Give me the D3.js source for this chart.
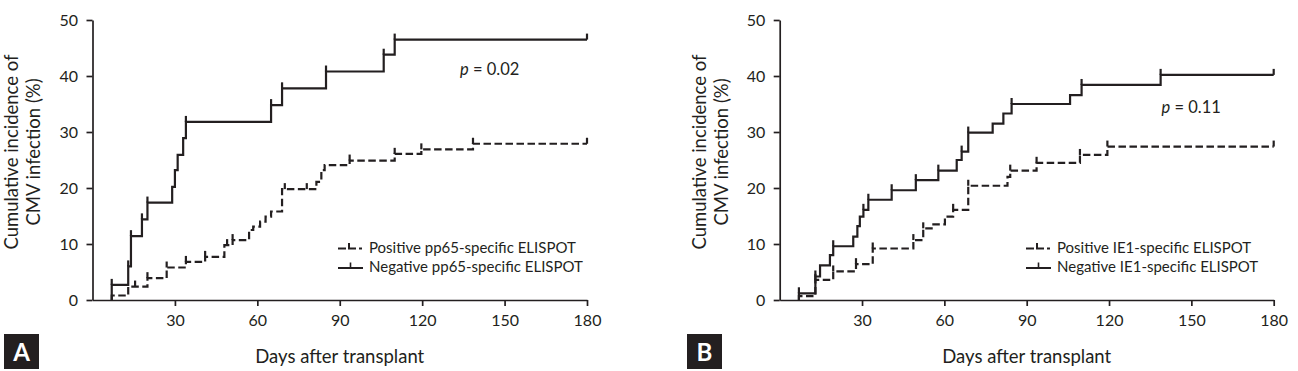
<!DOCTYPE html>
<html>
<head>
<meta charset="utf-8">
<script src="https://cdn.jsdelivr.net/npm/d3@7/dist/d3.min.js"></script>
<style>
  html, body { margin: 0; padding: 0; background: #fff; }
  svg { display: block; font-family: Lato, "Open Sans", sans-serif; }
</style>
</head>
<body>
<svg id="chart" width="1298" height="371"></svg>
<script>
// ---------------- data ----------------
const xTicks = [30, 60, 90, 120, 150, 180];
const yTicks = [0, 10, 20, 30, 40, 50];
const xTitle = "Days after transplant";
const yTitle1 = "Cumulative incidence of";
const yTitle2 = "CMV infection (%)";
const endDay = 180;

// Panel A – pp65
const aNegDays = [7, 13, 14, 18, 20, 29, 30, 31, 33, 34, 65, 69, 85, 106, 110];
const aNegVals = [2.7, 6.0, 11.4, 14.4, 17.4, 20.2, 23.2, 25.9, 28.9, 31.8, 34.8, 37.8, 40.8, 43.8, 46.5];
const aNegCensor = [7, 13, 14, 18, 20, 34, 65, 69, 85, 106, 110, 180];
const aPosDays = [7, 13, 20, 27, 34, 41, 48, 51, 57, 58.5, 61, 63, 65, 69, 81.5, 83.3, 84.5, 93.6, 110, 119.7, 138.5];
const aPosVals = [0.8, 2.4, 3.9, 5.8, 6.8, 7.7, 9.8, 10.7, 12.5, 13.1, 14.0, 14.9, 15.8, 19.8, 21.1, 23.2, 24.1, 24.9, 26.1, 26.9, 27.9];
const aPosCensor = [15.5, 20, 27, 34, 41, 49, 51, 70, 78, 93.6, 110, 119.7, 138.5, 180];
const aLegend = ["Positive pp65-specific ELISPOT", "Negative pp65-specific ELISPOT"];
const aP = "0.02";

// Panel B – IE1
const bNegDays = [7, 13, 14.7, 18.3, 19.5, 26.8, 28.3, 29.2, 30.5, 32.3, 40.8, 49.6, 57.8, 64.5, 66.3, 68.7, 77.6, 81.5, 84.5, 105.8, 110, 138.8];
const bNegVals = [1.2, 4.2, 6.2, 8.0, 9.6, 11.3, 13.2, 14.9, 16.1, 17.9, 19.6, 21.4, 23.1, 25.0, 26.5, 29.9, 31.5, 33.3, 35.0, 36.6, 38.4, 40.2];
const bNegCensor = [7, 13, 19.5, 30.5, 32.3, 40.8, 49.6, 57.8, 66.3, 68.7, 84.5, 110, 138.8, 180];
const bPosDays = [7, 13, 19.5, 27.8, 33.9, 48.7, 52.3, 56, 60.2, 63.2, 68.7, 83, 84, 93.6, 109.4, 119.4];
const bPosVals = [0.7, 3.6, 5.1, 6.4, 9.2, 10.7, 12.8, 13.5, 14.9, 16.1, 20.4, 22.0, 23.1, 24.5, 25.9, 27.4];
const bPosCensor = [13, 19.5, 27.8, 33.9, 48.7, 52.3, 63.2, 68.7, 84, 93.6, 109.4, 119.4, 180];
const bLegend = ["Positive IE1-specific ELISPOT", "Negative IE1-specific ELISPOT"];
const bP = "0.11";

// ---------------- drawing ----------------
const INK = "#231f20";
const svg = d3.select("#chart");

const panels = [
  { label: "A", x0: 92.5, x1: 587, box: 4, ylab: 18,
    neg: [aNegDays, aNegVals, aNegCensor], pos: [aPosDays, aPosVals, aPosCensor],
    legend: aLegend, legX: 338, p: aP, pX: 460, pY: 75 },
  { label: "B", x0: 779.7, x1: 1273.7, box: 687, ylab: 705.5,
    neg: [bNegDays, bNegVals, bNegCensor], pos: [bPosDays, bPosVals, bPosCensor],
    legend: bLegend, legX: 1026, p: bP, pX: 1161.5, pY: 113 }
];

function stepPoints(days, vals) {
  const pts = [[days[0], 0]];
  days.forEach((d, i) => pts.push([d, vals[i]]));
  pts.push([endDay, vals[vals.length - 1]]);
  return pts;
}
function valueAt(days, vals, t) {
  let v = 0;
  days.forEach((d, i) => { if (d <= t) v = vals[i]; });
  return v;
}

panels.forEach(P => {
  const x = d3.scaleLinear().domain([0, 180]).range([P.x0, P.x1]);
  const y = d3.scaleLinear().domain([0, 50]).range([300, 20]);
  const g = svg.append("g");

  // axes
  const xa = g.append("g").attr("transform", "translate(0,300)")
    .call(d3.axisBottom(x).tickValues(xTicks).tickSize(6).tickSizeOuter(0).tickPadding(9));
  const ya = g.append("g").attr("transform", `translate(${P.x0},0)`)
    .call(d3.axisLeft(y).tickValues(yTicks).tickSize(6).tickSizeOuter(0).tickPadding(8.5));
  [xa, ya].forEach(a => {
    a.select(".domain").attr("stroke", INK).attr("stroke-width", 1.7);
    a.selectAll(".tick line").attr("stroke", INK).attr("stroke-width", 1.7);
    a.selectAll(".tick text").attr("fill", INK).style("font-size", "16px").style("font-family", "Lato");
  });

  // axis titles
  g.append("text").attr("x", (P.x0 + P.x1) / 2).attr("y", 363)
    .attr("text-anchor", "middle").attr("fill", INK)
    .style("font-size", "18.5px").text(xTitle);
  const yt = g.append("text").attr("transform", `translate(${P.ylab},152) rotate(-90)`)
    .attr("text-anchor", "middle").attr("fill", INK).style("font-size", "18.5px");
  yt.append("tspan").attr("x", 0).attr("y", 0).text(yTitle1);
  yt.append("tspan").attr("x", 0).attr("y", 22).text(yTitle2);

  // panel label
  g.append("rect").attr("x", P.box).attr("y", 334).attr("width", 35).attr("height", 35).attr("fill", INK);
  g.append("text").attr("x", P.box + 17.5).attr("y", 361).attr("text-anchor", "middle")
    .attr("fill", "#fff").style("font-size", "24px").style("font-weight", "bold").text(P.label);

  // curves
  const line = d3.line().x(d => x(d[0])).y(d => y(d[1])).curve(d3.curveStepAfter);
  const series = [
    { s: P.pos, dash: "7.5,3.5" },
    { s: P.neg, dash: null }
  ];
  series.forEach(S => {
    const [days, vals, cens] = S.s;
    g.append("path").datum(stepPoints(days, vals)).attr("d", line)
      .attr("fill", "none").attr("stroke", INK).attr("stroke-width", 2.2)
      .attr("stroke-dasharray", S.dash);
    g.selectAll(null).data(cens).enter().append("line")
      .attr("x1", d => x(d)).attr("x2", d => x(d))
      .attr("y1", d => y(valueAt(days, vals, d)))
      .attr("y2", d => y(valueAt(days, vals, d)) - 6)
      .attr("stroke", INK).attr("stroke-width", 2.2);
  });

  // p value
  const pt = g.append("text").attr("x", P.pX).attr("y", P.pY).attr("fill", INK).style("font-size", "16.5px");
  pt.append("tspan").style("font-style", "italic").text("p");
  pt.append("tspan").text(" = " + P.p);

  // legend
  const lx = P.legX, lw = 25;
  // dashed symbol
  g.append("line").attr("x1", lx).attr("x2", lx + 8).attr("y1", 248.5).attr("y2", 248.5).attr("stroke", INK).attr("stroke-width", 2);
  g.append("path").attr("d", `M${lx + 11},243 V248.5 H${lx + 18}`).attr("fill", "none").attr("stroke", INK).attr("stroke-width", 2);
  g.append("line").attr("x1", lx + 21).attr("x2", lx + 24).attr("y1", 248.5).attr("y2", 248.5).attr("stroke", INK).attr("stroke-width", 2);
  // solid symbol
  g.append("line").attr("x1", lx).attr("x2", lx + lw).attr("y1", 268).attr("y2", 268).attr("stroke", INK).attr("stroke-width", 2);
  g.append("line").attr("x1", lx + 12.5).attr("x2", lx + 12.5).attr("y1", 268).attr("y2", 262.5).attr("stroke", INK).attr("stroke-width", 1.6);
  g.append("text").attr("x", lx + 31).attr("y", 253.3).attr("fill", INK).style("font-size", "15px").text(P.legend[0]);
  g.append("text").attr("x", lx + 31).attr("y", 272).attr("fill", INK).style("font-size", "15px").text(P.legend[1]);
});
</script>
</body>
</html>
